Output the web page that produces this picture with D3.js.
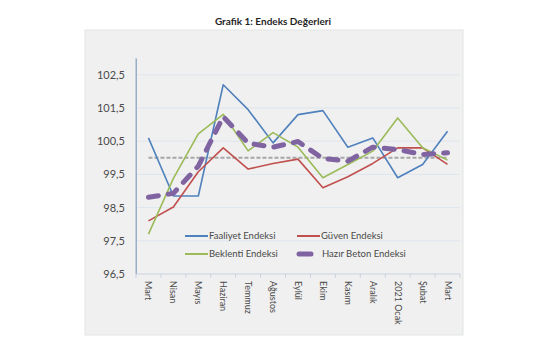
<!DOCTYPE html>
<html><head><meta charset="utf-8">
<script src="https://cdn.jsdelivr.net/npm/d3@7"></script>
<style>body{margin:0;background:#fff;} svg{display:block;} text{font-family:Lato,"Open Sans",sans-serif;}</style>
</head><body><svg id="c" width="555" height="355"></svg>
<script>
const categories = ["Mart","Nisan","Mayıs","Haziran","Temmuz","Ağustos","Eylül","Ekim","Kasım","Aralık","2021 Ocak","Şubat","Mart"];
const faaliyet = [100.6,98.85,98.85,102.2,101.45,100.45,101.3,101.42,100.32,100.6,99.4,99.8,100.8];
const guven = [98.1,98.52,99.58,100.3,99.66,99.83,99.96,99.1,99.43,99.83,100.3,100.3,99.8];
const beklenti = [97.7,99.38,100.72,101.31,100.21,100.76,100.32,99.4,99.8,100.2,101.2,100.3,99.93];
const hazirBeton = [98.81,98.93,99.75,101.24,100.44,100.32,100.49,99.98,99.9,100.32,100.25,100.1,100.15];
const baseline = categories.map(() => 100);
const yTicks = [96.5,97.5,98.5,99.5,100.5,101.5,102.5];
const title = "Grafik 1: Endeks Değerleri";

const svg = d3.select("#c");
// panel
svg.append("rect").attr("x",85).attr("y",30).attr("width",378).attr("height",305)
  .attr("fill","#f0f0f0").attr("stroke","#e2e6e6").attr("stroke-width",1);
svg.append("text").attr("x",273).attr("y",25).attr("text-anchor","middle")
  .attr("font-size",10).attr("font-weight","bold").attr("fill","#1f1f1f").text(title);

const x = d3.scaleBand().domain(d3.range(categories.length)).range([136,460]);
const y = d3.scaleLinear().domain([96.5,103]).range([274,58.2]);
const cx = i => x(i) + x.bandwidth()/2;

// gridlines
svg.append("g").selectAll("line").data(yTicks.filter(t=>t>96.5)).join("line")
  .attr("x1",136).attr("x2",460).attr("y1",d=>y(d)).attr("y2",d=>y(d))
  .attr("stroke","#dde5ee").attr("stroke-width",1);

// y axis
const ya = svg.append("g").attr("transform","translate(136,0)")
  .call(d3.axisLeft(y).tickValues(yTicks).tickSize(0).tickPadding(11).tickFormat(d=>d3.format(".1f")(d).replace(".",",")));
ya.select(".domain").attr("stroke","#9aaec6");
ya.selectAll("text").attr("font-size",11).attr("fill","#4a4a4a").attr("font-family","Lato, sans-serif");
svg.append("line").attr("x1",136).attr("x2",136).attr("y1",58.2).attr("y2",274).attr("stroke","#9aaec6");

// x axis
svg.append("line").attr("x1",136).attr("x2",460).attr("y1",274).attr("y2",274).attr("stroke","#c9d4e0");
svg.append("g").selectAll("line").data(d3.range(categories.length+1)).join("line")
  .attr("x1",i=>136+i*x.bandwidth()).attr("x2",i=>136+i*x.bandwidth())
  .attr("y1",274).attr("y2",278).attr("stroke","#c9d4e0");
svg.append("g").selectAll("text").data(categories).join("text")
  .attr("transform",(d,i)=>`translate(${cx(i)-3},281) rotate(90)`)
  .attr("font-size",9).attr("fill","#4a4a4a").text(d=>d);

const line = d3.line().x((d,i)=>cx(i)).y(d=>y(d));
svg.append("path").attr("d",line(baseline)).attr("fill","none")
  .attr("stroke","#a6a6a6").attr("stroke-width",2).attr("stroke-dasharray","4,2");
const series = [
  {name:"Faaliyet Endeksi", data:faaliyet, color:"#4f81bd", w:1.6, dash:null},
  {name:"Güven Endeksi", data:guven, color:"#c0504d", w:1.6, dash:null},
  {name:"Beklenti Endeksi", data:beklenti, color:"#9bbb59", w:1.6, dash:null},
  {name:"Hazır Beton Endeksi", data:hazirBeton, color:"#8064a2", w:5, dash:"10,10"}
];
series.forEach(s=>{
  svg.append("path").attr("d",line(s.data)).attr("fill","none")
    .attr("stroke",s.color).attr("stroke-width",s.w)
    .attr("stroke-linejoin","round")
    .attr("stroke-linecap",s.dash?"round":"butt")
    .attr("stroke-dasharray",s.dash);
});

// legend
const legPos = [[185,236],[297,236],[185,254],[297,254]];
series.forEach((s,i)=>{
  const [lx,ly] = legPos[i];
  const g = svg.append("g");
  if(s.dash){
    g.append("line").attr("x1",lx+2).attr("x2",lx+14).attr("y1",ly).attr("y2",ly)
      .attr("stroke",s.color).attr("stroke-width",5).attr("stroke-linecap","round");
    g.append("text").attr("x",lx+25).attr("y",ly).attr("dy","0.35em").attr("font-size",9.5).attr("fill","#4a4a4a").text(s.name);
  } else {
    g.append("line").attr("x1",lx).attr("x2",lx+23).attr("y1",ly).attr("y2",ly)
      .attr("stroke",s.color).attr("stroke-width",2);
    g.append("text").attr("x",lx+24).attr("y",ly).attr("dy","0.35em").attr("font-size",9.5).attr("fill","#4a4a4a").text(s.name);
  }
});
</script></body></html>
